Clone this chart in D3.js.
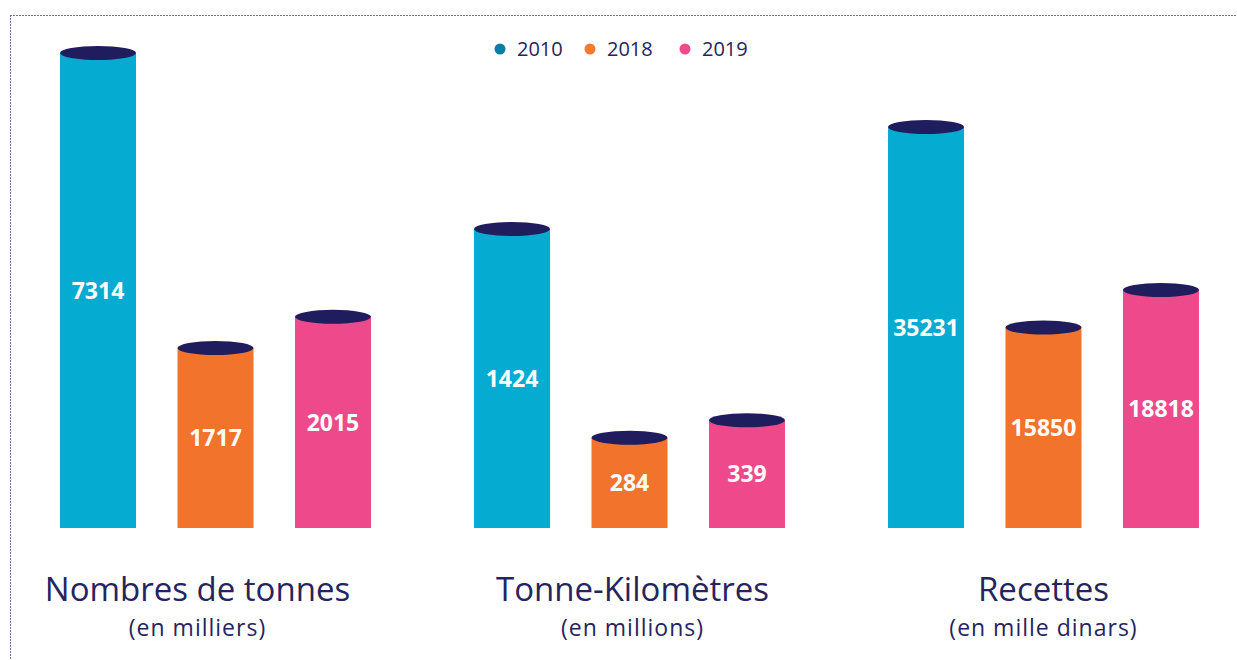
<!DOCTYPE html>
<html>
<head>
<meta charset="utf-8">
<script src="https://cdn.jsdelivr.net/npm/d3@7"></script>
<style>
  html, body { margin: 0; padding: 0; background: #ffffff; }
  svg { display: block; }
</style>
</head>
<body>
<svg id="chart" width="1237" height="660"></svg>
<script>
// ---------------- DATA ----------------
const categories = ["Nombres de tonnes", "Tonne-Kilomètres", "Recettes"];
const subtitles = ["(en milliers)", "(en millions)", "(en mille dinars)"];
const years = ["2010", "2018", "2019"];
const values2010 = [7314, 1424, 35231];
const values2018 = [1717, 284, 15850];
const values2019 = [2015, 339, 18818];

// ---------------- LAYOUT / STYLE ----------------
const W = 1237, H = 660;
const baseline = 528;
const capRy = 7;
// per-group "broken" scale: px per unit for the recent years, height of the tallest (2010) bar
const unitPx = [0.1048, 0.318, 0.01265];
const tallHeight = [475, 299, 401];
const labelDx = [-18, 3, 0];
const barColors = {"2010": "#06abd1", "2018": "#f2732c", "2019": "#ee4a8b"};
const legendColors = {"2010": "#0a7ca6", "2018": "#f47a2f", "2019": "#ef4c8c"};
const capColor = "#201d5e";
const textColor = "#26245e";
const font = "'Open Sans', Lato, sans-serif";

const svg = d3.select("#chart");

// dotted frame (top and left)
svg.append("line").attr("x1", 10).attr("x2", W).attr("y1", 15.5).attr("y2", 15.5)
  .attr("stroke", "#6f6e98").attr("stroke-width", 1).attr("stroke-dasharray", "2,1");
svg.append("line").attr("x1", 10.5).attr("x2", 10.5).attr("y1", 15).attr("y2", H)
  .attr("stroke", "#6f6e98").attr("stroke-width", 1).attr("stroke-dasharray", "2,1");

// group and bar scales
const x0 = d3.scaleBand().domain(categories).range([8.5, 1250.5]);
const x1 = d3.scaleBand().domain(years).range([0, x0.bandwidth()])
  .paddingInner(0.353).paddingOuter(0.4385);

const rows = categories.map((c, i) => ({
  cat: c, sub: subtitles[i], i,
  vals: [values2010[i], values2018[i], values2019[i]]
}));

rows.forEach(row => {
  const i = row.i;
  const recentMax = d3.max(row.vals.slice(1));
  const allMax = d3.max(row.vals);
  const y = d3.scaleLinear()
    .domain([0, recentMax, allMax])
    .range([baseline, baseline - recentMax * unitPx[i], baseline - tallHeight[i]]);

  const g = svg.append("g").attr("transform", `translate(${x0(row.cat)},0)`);

  const bars = g.selectAll("g.bar")
    .data(years.map((yr, k) => ({yr, v: row.vals[k]})))
    .join("g").attr("class", "bar");

  bars.append("rect")
    .attr("x", d => x1(d.yr))
    .attr("y", d => y(d.v))
    .attr("width", x1.bandwidth())
    .attr("height", d => baseline - y(d.v))
    .attr("fill", d => barColors[d.yr]);

  bars.append("ellipse")
    .attr("cx", d => x1(d.yr) + x1.bandwidth() / 2)
    .attr("cy", d => y(d.v))
    .attr("rx", x1.bandwidth() / 2)
    .attr("ry", capRy)
    .attr("fill", capColor);

  bars.append("text")
    .attr("x", d => x1(d.yr) + x1.bandwidth() / 2)
    .attr("y", d => (y(d.v) + baseline) / 2)
    .attr("dy", "0.36em")
    .attr("text-anchor", "middle")
    .attr("fill", "#ffffff")
    .attr("font-family", font)
    .attr("font-weight", 700)
    .attr("font-size", 23)
    .text(d => d.v);

  const cx = x0.bandwidth() / 2 + labelDx[i];
  g.append("text")
    .attr("x", cx).attr("y", 601)
    .attr("text-anchor", "middle")
    .attr("fill", textColor)
    .attr("font-family", font)
    .attr("font-size", 33)
    .text(row.cat);
  g.append("text")
    .attr("x", cx).attr("y", 636)
    .attr("text-anchor", "middle")
    .attr("fill", textColor)
    .attr("font-family", font)
    .attr("font-size", 23)
    .attr("letter-spacing", 1)
    .text(row.sub);
});

// legend
const legendX = [500, 590, 685];
const legend = svg.append("g");
years.forEach((yr, k) => {
  legend.append("circle").attr("cx", legendX[k]).attr("cy", 49).attr("r", 5.5)
    .attr("fill", legendColors[yr]);
  legend.append("text").attr("x", legendX[k] + 17).attr("y", 49).attr("dy", "0.36em")
    .attr("fill", textColor)
    .attr("font-family", font)
    .attr("font-size", 20)
    .text(yr);
});
</script>
</body>
</html>
